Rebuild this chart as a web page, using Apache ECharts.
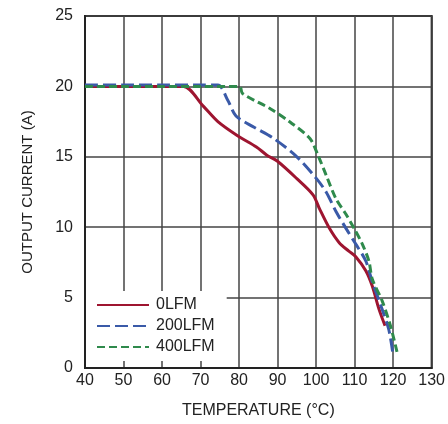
<!DOCTYPE html>
<html>
<head>
<meta charset="utf-8">
<script src="https://cdn.jsdelivr.net/npm/echarts@6/dist/echarts.min.js"></script>
<style>
  html, body { margin: 0; padding: 0; background: #fff; }
  #main { width: 448px; height: 424px; }
</style>
</head>
<body>
<div id="main"></div>
<script>
// 数据
var seriesNames = ['0LFM', '200LFM', '400LFM'];
var temp0 = [40, 50, 60, 65.6, 70.7, 74.5, 79.6, 84.5, 87.3, 89.9, 95, 99.2, 100.9, 103.5, 106, 108.5, 110.3, 112.9, 114.6, 116.3, 117.9];
var curr0 = [20, 20, 20, 20, 18.6, 17.5, 16.5, 15.7, 15.1, 14.7, 13.45, 12.3, 11.3, 9.9, 8.9, 8.3, 7.9, 6.9, 5.8, 4.2, 3.0];
var temp200 = [40, 50, 60, 70, 74.5, 77.1, 79.2, 83.9, 89, 95, 100.1, 102.6, 105.2, 107.8, 110.3, 112.9, 114.6, 117.1, 118.9, 120];
var curr200 = [20.1, 20.1, 20.1, 20.1, 20.1, 19.0, 17.9, 17.1, 16.3, 15.0, 13.45, 12.5, 11.1, 9.9, 8.8, 7.6, 6.1, 4.2, 2.7, 0.9];
var temp400 = [40, 50, 60, 70, 80.1, 80.9, 88.2, 93.3, 98.4, 100.5, 102.6, 105.2, 107.8, 109.9, 112, 113.7, 114.6, 117.1, 119.3, 121];
var curr400 = [20, 20, 20, 20, 20, 19.5, 18.4, 17.45, 16.3, 15.1, 13.7, 12.0, 10.9, 9.9, 8.8, 7.6, 6.3, 4.8, 3.0, 1.15];
var seriesColors = ['#9e1530', '#3a5aa8', '#2f8a4c'];

function pairs(xs, ys) {
    var out = [];
    for (var i = 0; i < xs.length; i++) {
        out.push([xs[i], ys[i]]);
    }
    return out;
}

var myChart = echarts.init(document.getElementById('main'));
var font = 'Liberation Sans, Arial, sans-serif';

var option = {
    backgroundColor: '#fff',
    animation: false,
    grid: {
        left: 85,
        right: 11,
        top: 16,
        bottom: 56,
        show: true,
        borderColor: '#222',
        borderWidth: 2
    },
    legend: {
        orient: 'vertical',
        left: 86,
        top: 291,
        padding: [6, 12, 6, 10],
        itemGap: 5,
        itemWidth: 52,
        itemHeight: 16,
        backgroundColor: '#fff',
        itemStyle: { opacity: 0 },
        textStyle: { color: '#222', fontSize: 16, fontFamily: font, padding: [0, 0, 0, 2] },
        data: seriesNames
    },
    xAxis: {
        type: 'value',
        min: 40,
        max: 130,
        interval: 10,
        axisLine: { show: true, lineStyle: { color: '#222', width: 2 } },
        axisTick: { show: false },
        axisLabel: { color: '#222', fontSize: 16, fontFamily: font, margin: 5 },
        splitLine: { show: true, lineStyle: { color: '#444', width: 1.5 } },
        name: 'TEMPERATURE (°C)',
        nameLocation: 'middle',
        nameGap: 35,
        nameTextStyle: { color: '#222', fontSize: 16, fontFamily: font }
    },
    yAxis: {
        type: 'value',
        min: 0,
        max: 25,
        interval: 5,
        axisLine: { show: true, lineStyle: { color: '#222', width: 2 } },
        axisTick: { show: false },
        axisLabel: { color: '#222', fontSize: 16, fontFamily: font, margin: 12 },
        splitLine: { show: true, lineStyle: { color: '#444', width: 1.5 } },
        name: 'OUTPUT CURRENT (A)',
        nameLocation: 'middle',
        nameGap: 50,
        nameTextStyle: { color: '#222', fontSize: 15, fontFamily: font }
    },
    series: [{
        name: seriesNames[0],
        type: 'line',
        symbol: 'none',
        smooth: 0.3,
        color: seriesColors[0],
        lineStyle: { width: 3, color: seriesColors[0] },
        data: pairs(temp0, curr0)
    }, {
        name: seriesNames[1],
        type: 'line',
        symbol: 'none',
        smooth: 0.3,
        color: seriesColors[1],
        lineStyle: { width: 3, color: seriesColors[1], type: [13, 5] },
        data: pairs(temp200, curr200)
    }, {
        name: seriesNames[2],
        type: 'line',
        symbol: 'none',
        smooth: 0.3,
        color: seriesColors[2],
        lineStyle: { width: 3, color: seriesColors[2], type: [8, 4] },
        data: pairs(temp400, curr400)
    }]
};

myChart.setOption(option);
</script>
</body>
</html>
